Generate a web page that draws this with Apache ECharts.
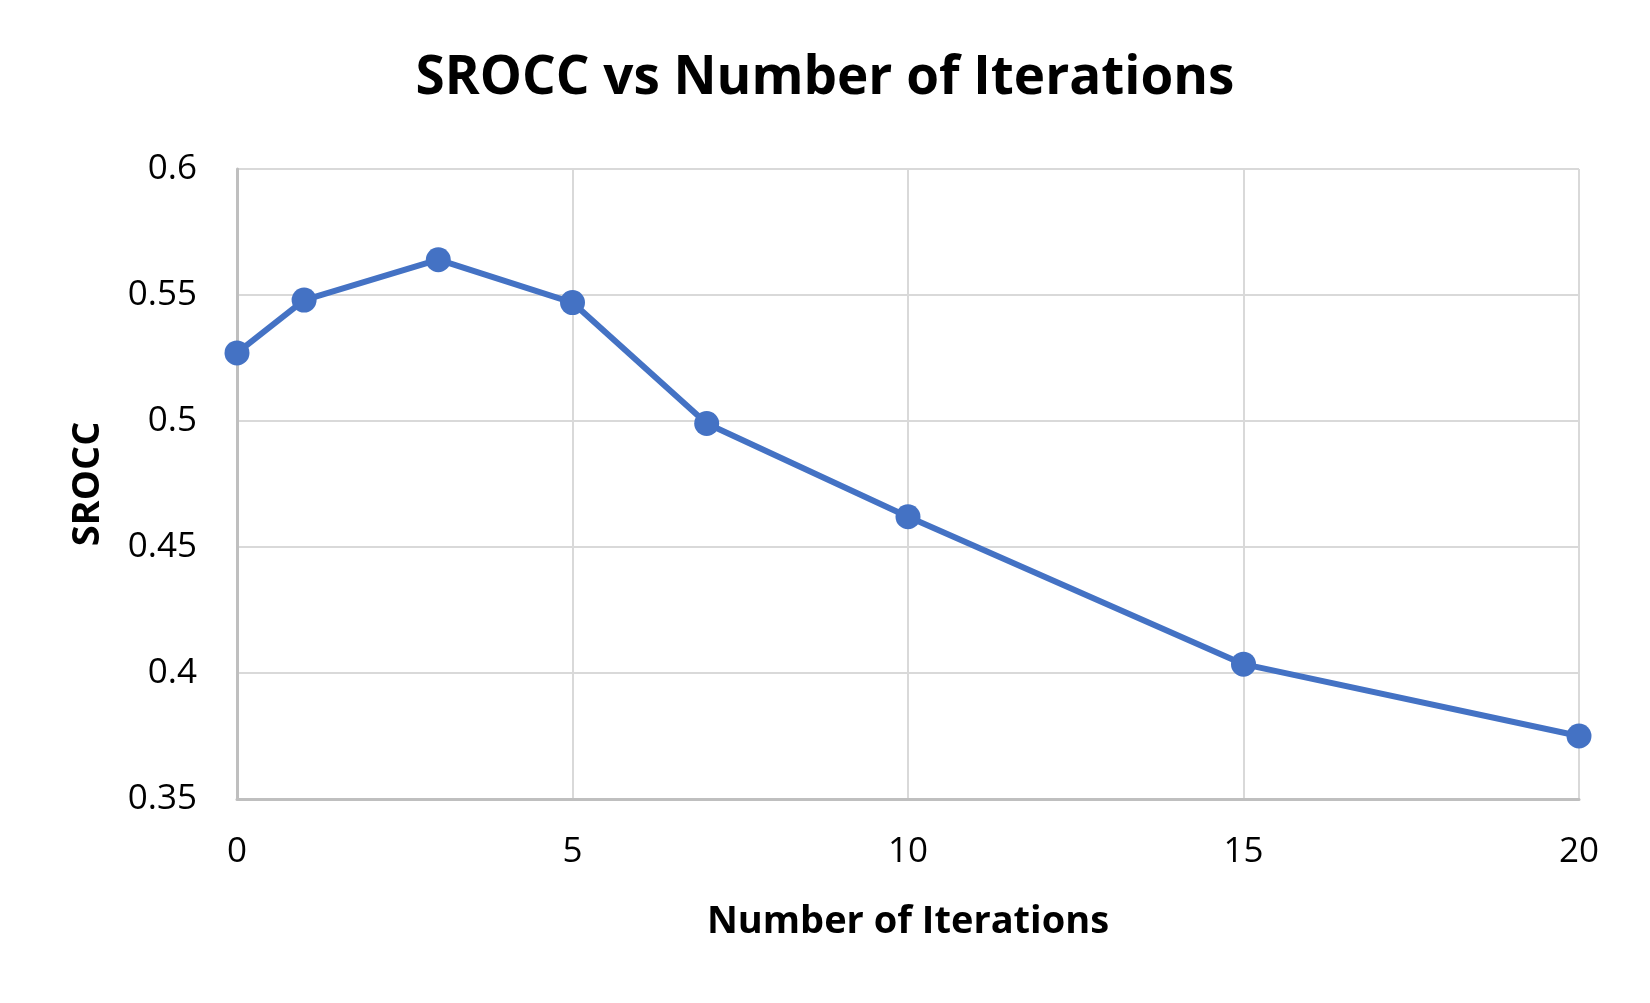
<!DOCTYPE html>
<html>
<head>
<meta charset="utf-8">
<title>SROCC vs Number of Iterations</title>
<script src="https://cdn.jsdelivr.net/npm/echarts@6/dist/echarts.min.js"></script>
<style>
  html, body { margin: 0; padding: 0; background: #fff; }
  #chartContainer { width: 1650px; height: 1003px; }
</style>
</head>
<body>
<div id="chartContainer"></div>
<script>
'use strict';
// data
const iterations = [0, 1, 3, 5, 7, 10, 15, 20];
const sroccValues = [0.527, 0.548, 0.564, 0.547, 0.499, 0.462, 0.4035, 0.375];
const xTicks = [0, 5, 10, 15, 20];
const yTicks = [0.35, 0.4, 0.45, 0.5, 0.55, 0.6];

let initChart = (function() {
    let chartContainer = document.getElementById('chartContainer');
    let demoChart = echarts.init(chartContainer);
    let fontFamily = 'Open Sans';

    let option = {
        backgroundColor: '#fff',
        title: {
            text: 'SROCC vs Number of Iterations',
            left: 'center',
            top: 47,
            textStyle: {
                fontFamily: fontFamily,
                fontWeight: 'bold',
                fontSize: 53,
                color: '#000'
            }
        },
        grid: {
            left: 237,
            right: 71,
            top: 169,
            bottom: 204
        },
        xAxis: {
            type: 'value',
            min: xTicks[0],
            max: xTicks[xTicks.length - 1],
            interval: xTicks[1] - xTicks[0],
            name: 'Number of Iterations',
            nameLocation: 'middle',
            nameGap: 104,
            nameTextStyle: {
                fontFamily: fontFamily,
                fontWeight: 'bold',
                fontSize: 38,
                color: '#000'
            },
            axisLabel: {
                margin: 36,
                fontFamily: fontFamily,
                fontSize: 35,
                color: '#000'
            },
            axisLine: {
                show: true,
                lineStyle: { color: '#bfbfbf', width: 3 }
            },
            axisTick: { show: false },
            splitLine: {
                show: true,
                lineStyle: { color: '#d9d9d9', width: 2 }
            }
        },
        yAxis: {
            type: 'value',
            min: yTicks[0],
            max: yTicks[yTicks.length - 1],
            interval: 0.05,
            name: 'SROCC',
            nameLocation: 'middle',
            nameGap: 130,
            nameTextStyle: {
                fontFamily: fontFamily,
                fontWeight: 'bold',
                fontSize: 38,
                color: '#000'
            },
            axisLabel: {
                margin: 40,
                fontFamily: fontFamily,
                fontSize: 35,
                color: '#000',
                formatter: function(v) { return String(+v.toFixed(2)); }
            },
            axisLine: {
                show: true,
                lineStyle: { color: '#bfbfbf', width: 3 }
            },
            axisTick: { show: false },
            splitLine: {
                show: true,
                lineStyle: { color: '#d9d9d9', width: 2 }
            }
        },
        series: [{
            name: 'SROCC',
            type: 'line',
            data: iterations.map(function(x, i) { return [x, sroccValues[i]]; }),
            symbol: 'circle',
            symbolSize: 25,
            lineStyle: { color: '#4472C4', width: 6 },
            itemStyle: { color: '#4472C4' },
            animation: false
        }]
    };

    demoChart.setOption(option);
})();
</script>
</body>
</html>
